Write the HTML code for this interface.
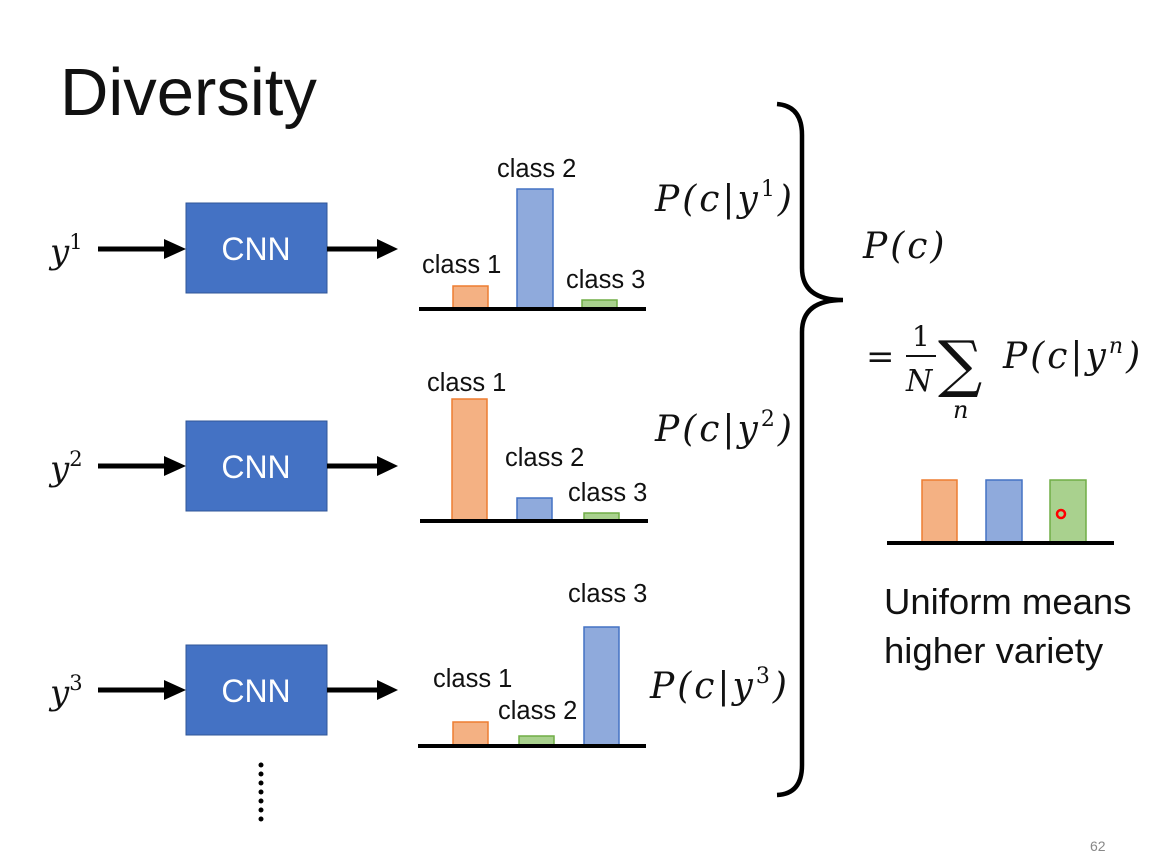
<!DOCTYPE html>
<html><head><meta charset="utf-8"><style>
body{margin:0;background:#fff}
svg{display:block}
.c{font-family:"Liberation Sans",sans-serif;font-size:25.5px;fill:#111}
.m{font-family:"DejaVu Serif","Liberation Serif",serif;font-style:italic;fill:#111}
</style></head><body>
<svg width="1176" height="857" viewBox="0 0 1176 857" xmlns="http://www.w3.org/2000/svg">
<defs>
<g id="arr"><rect x="0" y="-2.5" width="68" height="5" fill="#000"/><polygon points="66,-10 88,0 66,10" fill="#000"/></g>
<g id="arr2"><rect x="0" y="-2.5" width="52" height="5" fill="#000"/><polygon points="50,-10 71,0 50,10" fill="#000"/></g>
</defs>
<text x="60" y="115" font-family="Liberation Sans,sans-serif" font-size="67" fill="#111">Diversity</text>

<g>
<text class="m" x="50" y="263" font-size="34">y<tspan font-size="21" dy="-14" font-style="normal">1</tspan></text>
<use href="#arr" x="98" y="249"/>
<rect x="186" y="203" width="141" height="90" fill="#4472C4" stroke="#2F5597" stroke-width="1"/>
<text x="256" y="260" text-anchor="middle" font-family="Liberation Sans,sans-serif" font-size="32" fill="#fff">CNN</text>
<use href="#arr2" x="327" y="249"/>
</g>
<g>
<text class="m" x="50" y="480" font-size="34">y<tspan font-size="21" dy="-14" font-style="normal">2</tspan></text>
<use href="#arr" x="98" y="466"/>
<rect x="186" y="421" width="141" height="90" fill="#4472C4" stroke="#2F5597" stroke-width="1"/>
<text x="256" y="478" text-anchor="middle" font-family="Liberation Sans,sans-serif" font-size="32" fill="#fff">CNN</text>
<use href="#arr2" x="327" y="466"/>
</g>
<g>
<text class="m" x="50" y="704" font-size="34">y<tspan font-size="21" dy="-14" font-style="normal">3</tspan></text>
<use href="#arr" x="98" y="690"/>
<rect x="186" y="645" width="141" height="90" fill="#4472C4" stroke="#2F5597" stroke-width="1"/>
<text x="256" y="702" text-anchor="middle" font-family="Liberation Sans,sans-serif" font-size="32" fill="#fff">CNN</text>
<use href="#arr2" x="327" y="690"/>
</g>
<g fill="#000">
<circle cx="261" cy="765" r="2.5"/><circle cx="261" cy="774" r="2.5"/><circle cx="261" cy="783" r="2.5"/><circle cx="261" cy="792" r="2.5"/><circle cx="261" cy="801" r="2.5"/><circle cx="261" cy="810" r="2.5"/><circle cx="261" cy="819" r="2.5"/>
</g>

<g stroke-width="1.5">
<rect x="453" y="286" width="35" height="23" fill="#F4B183" stroke="#ED7D31"/>
<rect x="517" y="189" width="36" height="120" fill="#8FAADC" stroke="#4472C4"/>
<rect x="582" y="300" width="35" height="9" fill="#A9D18E" stroke="#70AD47"/>
<rect x="452" y="399" width="35" height="122" fill="#F4B183" stroke="#ED7D31"/>
<rect x="517" y="498" width="35" height="23" fill="#8FAADC" stroke="#4472C4"/>
<rect x="584" y="513" width="35" height="8" fill="#A9D18E" stroke="#70AD47"/>
<rect x="453" y="722" width="35" height="24" fill="#F4B183" stroke="#ED7D31"/>
<rect x="519" y="736" width="35" height="10" fill="#A9D18E" stroke="#70AD47"/>
<rect x="584" y="627" width="35" height="119" fill="#8FAADC" stroke="#4472C4"/>
<rect x="922" y="480" width="35" height="63" fill="#F4B183" stroke="#ED7D31"/>
<rect x="986" y="480" width="36" height="63" fill="#8FAADC" stroke="#4472C4"/>
<rect x="1050" y="480" width="36" height="63" fill="#A9D18E" stroke="#70AD47"/>
</g>
<circle cx="1061" cy="514" r="4" fill="none" stroke="#f00" stroke-width="2.5"/>
<g fill="#000">
<rect x="419" y="307" width="227" height="4"/>
<rect x="420" y="519" width="228" height="4"/>
<rect x="418" y="744" width="228" height="4"/>
<rect x="887" y="541" width="227" height="4"/>
</g>
<text class="c" x="422" y="273">class 1</text>
<text class="c" x="497" y="177">class 2</text>
<text class="c" x="566" y="288">class 3</text>
<text class="c" x="427" y="391">class 1</text>
<text class="c" x="505" y="466">class 2</text>
<text class="c" x="568" y="501">class 3</text>
<text class="c" x="568" y="602">class 3</text>
<text class="c" x="433" y="687">class 1</text>
<text class="c" x="498" y="719">class 2</text>

<text class="m" x="655" y="211" font-size="36" letter-spacing="3">P(c|y<tspan font-size="22" dy="-15" font-style="normal">1</tspan><tspan dy="15">)</tspan></text>
<text class="m" x="655" y="441" font-size="36" letter-spacing="3">P(c|y<tspan font-size="22" dy="-15" font-style="normal">2</tspan><tspan dy="15">)</tspan></text>
<text class="m" x="650" y="698" font-size="36" letter-spacing="3">P(c|y<tspan font-size="22" dy="-15" font-style="normal">3</tspan><tspan dy="15">)</tspan></text>

<path d="M777,104 Q802,106 802,135 L802,268 Q802,300 843,300 M843,300 Q802,300 802,332 L802,765 Q802,794 777,795" fill="none" stroke="#000" stroke-width="4.5"/>

<text class="m" x="863" y="258" font-size="36" letter-spacing="3">P(c)</text>
<text x="866" y="368" font-family="DejaVu Serif,serif" font-size="34" fill="#111">=</text>
<text x="912" y="346" font-family="DejaVu Serif,serif" font-size="28" fill="#111">1</text>
<rect x="906" y="355" width="30" height="2" fill="#111"/>
<text class="m" x="906" y="391" font-size="30">N</text>
<text x="938" y="385" font-family="DejaVu Serif,serif" font-size="62" fill="#111">∑</text>
<text class="m" x="953" y="418" font-size="24">n</text>
<text class="m" x="1003" y="368" font-size="36" letter-spacing="3">P(c|y<tspan font-size="22" dy="-15">n</tspan><tspan dy="15">)</tspan></text>

<text x="884" y="614" font-family="Liberation Sans,sans-serif" font-size="36.5" fill="#111">Uniform means</text>
<text x="884" y="663" font-family="Liberation Sans,sans-serif" font-size="36.5" fill="#111">higher variety</text>
<text x="1090" y="851" font-family="Liberation Sans,sans-serif" font-size="14" fill="#888">62</text>
</svg>
</body></html>
